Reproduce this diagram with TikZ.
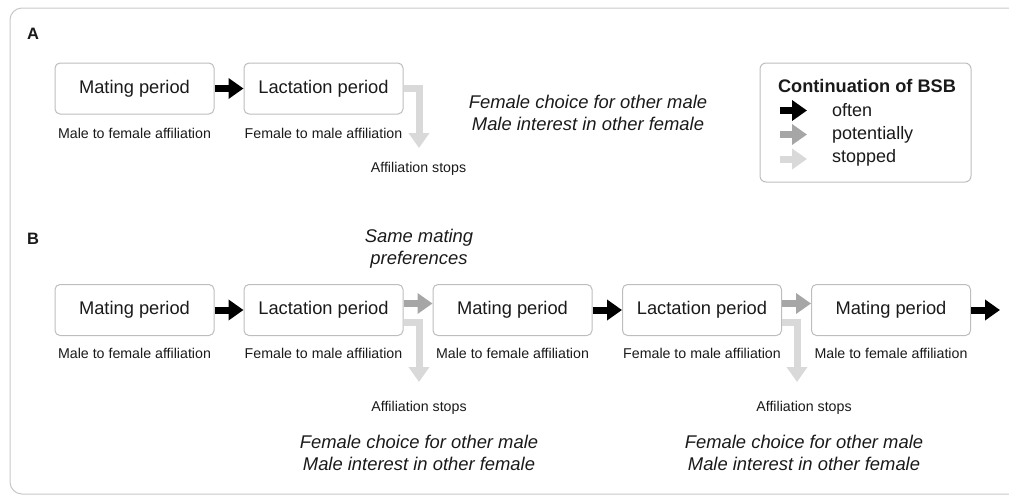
\documentclass[tikz,border=0pt]{standalone}
\usepackage{fontspec}
\setmainfont{Liberation Sans}
\usetikzlibrary{arrows.meta}
\definecolor{potc}{HTML}{A6A6A6}
\definecolor{stopc}{HTML}{D9D9D9}
\definecolor{boxc}{HTML}{BDBDBD}
\definecolor{framec}{HTML}{C8C8C8}
\definecolor{txtc}{HTML}{1A1A1A}
\tikzset{
  period/.style={draw=boxc, line width=1pt, rounded corners=5pt, minimum width=159pt, minimum height=51pt, inner sep=0pt, text=txtc, font=\fontsize{18.3}{22}\selectfont},
  sublabel/.style={text=txtc, font=\fontsize{14.2}{17}\selectfont, inner sep=0pt},
  note/.style={text=txtc, font=\fontsize{18.4}{22}\selectfont\itshape, align=center, inner sep=0pt},
  panel/.style={text=txtc, font=\fontsize{16.5}{18}\selectfont\bfseries, inner sep=0pt},
  blockarrow/.style={line width=7pt, line cap=butt, line join=miter, -{Triangle[length=15pt,width=20pt]}},
  oftenarr/.style={blockarrow, draw=black},
  potarr/.style={blockarrow, draw=potc},
  stoparr/.style={blockarrow, draw=stopc},
  legtext/.style={text=txtc, font=\fontsize{18}{22}\selectfont, anchor=west, inner sep=0pt},
}
\begin{document}
\begin{tikzpicture}[x=1pt,y=-1pt]
\useasboundingbox (0,0) rectangle (1009,496);
% outer frame
\draw[framec, line width=1pt, rounded corners=12pt] (10,8) rectangle (1030,494);

% ---------- Panel A ----------
\node[panel] (A) at (33,34) {A};
\node[period] (am1) at (134.5,88.5) {Mating period};
\node[period] (al1) at (323.5,88.5) {Lactation period};
\node[sublabel] (aml1) at (134.5,133) {Male to female affiliation};
\node[sublabel] (all1) at (323.5,133) {Female to male affiliation};
\node[sublabel] (as1) at (418.5,169) {Affiliation stops};
\coordinate (ase1) at (419,148);
\draw[oftenarr] (am1.east) -- (al1.west);
\draw[stoparr] (al1.east) -| (ase1);
\node[note] (an1) at (588,113) {Female choice for other male\\Male interest in other female};

% legend
\node[draw=boxc, line width=1pt, rounded corners=6pt, minimum width=211pt, minimum height=119pt] (leg) at (865.5,122.5) {};
\node[text=txtc, font=\fontsize{18.2}{22}\selectfont\bfseries, inner sep=0pt] (legt) at (867,86) {Continuation of BSB};
\coordinate (lo1) at (780,110.5); \coordinate (lo2) at (807,110.5);
\coordinate (lp1) at (780,134.5); \coordinate (lp2) at (807,134.5);
\coordinate (ls1) at (780,159); \coordinate (ls2) at (807,159);
\draw[oftenarr] (lo1) -- (lo2);
\draw[potarr] (lp1) -- (lp2);
\draw[stoparr] (ls1) -- (ls2);
\node[legtext] (lto) at (832,110) {often};
\node[legtext] (ltp) at (832,134.5) {potentially};
\node[legtext] (lts) at (832,158) {stopped};

% ---------- Panel B ----------
\node[panel] (B) at (33,239) {B};
\node[note] (same) at (419,249) {Same mating\\preferences};
\node[period] (bm1) at (134.5,310) {Mating period};
\node[period] (bl1) at (323.5,310) {Lactation period};
\node[period] (bm2) at (512.5,310) {Mating period};
\node[period] (bl2) at (702,310) {Lactation period};
\node[period] (bm3) at (891,310) {Mating period};
\node[sublabel] (bml1) at (134.5,353) {Male to female affiliation};
\node[sublabel] (bll1) at (323.5,353) {Female to male affiliation};
\node[sublabel] (bml2) at (512.5,353) {Male to female affiliation};
\node[sublabel] (bll2) at (702,353) {Female to male affiliation};
\node[sublabel] (bml3) at (891,353) {Male to female affiliation};
\node[sublabel] (bs1) at (419,408) {Affiliation stops};
\node[sublabel] (bs2) at (804,408) {Affiliation stops};
\coordinate (bse1) at (419,382);
\coordinate (bse2) at (797,382);
\coordinate (bend) at (1000,310);
\draw[oftenarr] (bm1.east) -- (bl1.west);
\draw[potarr] ([yshift=6.5pt]bl1.east) -- ([yshift=6.5pt]bm2.west);
\draw[stoparr] ([yshift=-12pt]bl1.east) -| (bse1);
\draw[oftenarr] (bm2.east) -- (bl2.west);
\draw[potarr] ([yshift=6.5pt]bl2.east) -- ([yshift=6.5pt]bm3.west);
\draw[stoparr] ([yshift=-12pt]bl2.east) -| (bse2);
\draw[oftenarr] (bm3.east) -- (bend);
\node[note] (bn1) at (419,453) {Female choice for other male\\Male interest in other female};
\node[note] (bn2) at (804,453) {Female choice for other male\\Male interest in other female};
\end{tikzpicture}
\end{document}
